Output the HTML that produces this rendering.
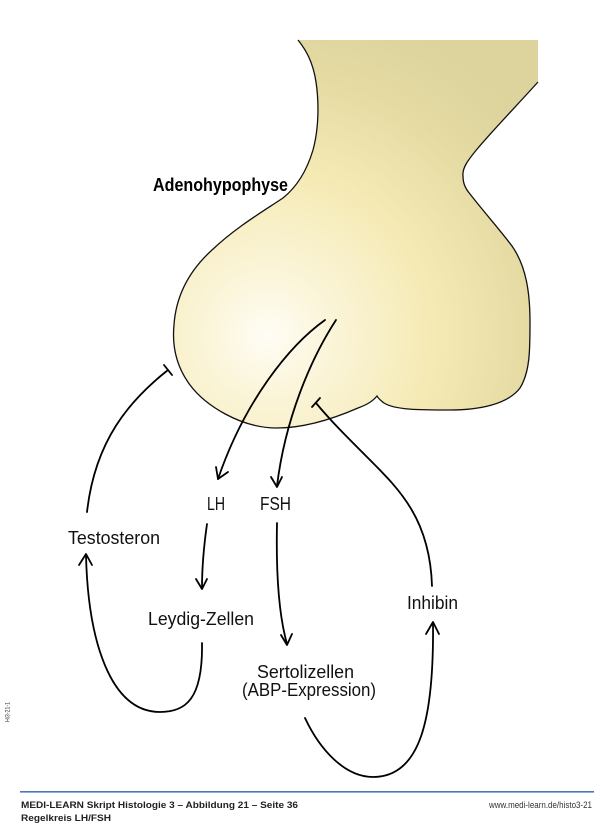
<!DOCTYPE html>
<html>
<head>
<meta charset="utf-8">
<style>
html,body{margin:0;padding:0;background:#fff;}
svg{display:block;}
text{font-family:"Liberation Sans",sans-serif;}
</style>
</head>
<body>
<svg width="600" height="831" viewBox="0 0 600 831" xmlns="http://www.w3.org/2000/svg">
<defs>
<radialGradient id="g" gradientUnits="userSpaceOnUse" cx="268" cy="335" r="330">
<stop offset="0" stop-color="#fffdf5"/>
<stop offset="0.18" stop-color="#fbf5da"/>
<stop offset="0.5" stop-color="#f5eab4"/>
<stop offset="0.8" stop-color="#e4daa2"/>
<stop offset="1" stop-color="#ddd39d"/>
</radialGradient>
</defs>
<!-- Adenohypophyse shape -->
<path d="M298,40 L538,40 L538,82
C 520,102 495,128 478,148
C 468,160 462,168 463,176
C 463,183 465,188 470,194
C 484,212 500,230 512,246
C 526,266 530,292 530,322
C 530,350 530,372 520,388
C 508,404 480,410 450,410
C 420,410 395,410 384,403
C 380,400 378,398 377,396
C 372,402 366,405 358,408
C 335,418 305,428 277,428
C 240,428 205,405 190,385
C 176,366 172,345 174,325
C 176,295 190,270 212,250
C 235,228 262,212 283,198
C 298,186 307,170 313,150
C 319,128 319,102 316,82
C 313,62 306,50 298,40 Z"
 fill="url(#g)" stroke="none"/>
<path d="M538,82
C 520,102 495,128 478,148
C 468,160 462,168 463,176
C 463,183 465,188 470,194
C 484,212 500,230 512,246
C 526,266 530,292 530,322
C 530,350 530,372 520,388
C 508,404 480,410 450,410
C 420,410 395,410 384,403
C 380,400 378,398 377,396
C 372,402 366,405 358,408
C 335,418 305,428 277,428
C 240,428 205,405 190,385
C 176,366 172,345 174,325
C 176,295 190,270 212,250
C 235,228 262,212 283,198
C 298,186 307,170 313,150
C 319,128 319,102 316,82
C 313,62 306,50 298,40"
 fill="none" stroke="#111" stroke-width="1.3"/>

<g fill="none" stroke="#000" stroke-width="1.8" stroke-linecap="round" stroke-linejoin="round">
<!-- LH arrow -->
<path d="M325,320 C 290,345 245,400 218,479"/>
<path d="M216,467 L218,479 L228,472"/>
<!-- FSH arrow -->
<path d="M336,320 C 310,360 285,420 277,486"/>
<path d="M271,477 L277,487 L282,477"/>
<!-- LH -> Leydig -->
<path d="M207,524 C 204,545 202,565 202,588"/>
<path d="M196,579 L202,589 L207,579"/>
<!-- FSH -> Sertoli -->
<path d="M277,523 C 276,570 278,612 287,644"/>
<path d="M281,635 L287,645 L292,634"/>
<!-- Leydig -> Testosteron -->
<path d="M202,643 C 203,700 185,712 160,712 C 110,712 88,640 86,555"/>
<path d="M79,565 L86,554 L92,565"/>
<!-- Testosteron inhibition -->
<path d="M87,512 C 95,440 130,400 168,370"/>
<path d="M164,365 L172,375"/>
<!-- Sertoli -> Inhibin -->
<path d="M305,718 C 320,750 345,777 373,777 C 420,777 434,720 433,623"/>
<path d="M426,634 L433,622 L439,634"/>
<!-- Inhibin inhibition -->
<path d="M432,586 C 430,520 400,490 370,460 C 345,435 330,420 316,403"/>
<path d="M312,407 L320,398"/>
</g>

<text x="153" y="191" font-size="18" font-weight="bold" textLength="135" lengthAdjust="spacingAndGlyphs" fill="#000">Adenohypophyse</text>
<g font-size="18" fill="#111">
<text x="68" y="544" textLength="92" lengthAdjust="spacingAndGlyphs">Testosteron</text>
<text x="207" y="510" textLength="18" lengthAdjust="spacingAndGlyphs">LH</text>
<text x="260" y="510" textLength="31" lengthAdjust="spacingAndGlyphs">FSH</text>
<text x="148" y="625" textLength="106" lengthAdjust="spacingAndGlyphs">Leydig-Zellen</text>
<text x="257" y="678" textLength="97" lengthAdjust="spacingAndGlyphs">Sertolizellen</text>
<text x="242" y="696" textLength="134" lengthAdjust="spacingAndGlyphs">(ABP-Expression)</text>
<text x="407" y="609" textLength="51" lengthAdjust="spacingAndGlyphs">Inhibin</text>
</g>

<!-- side label -->
<text transform="translate(9.5,722) rotate(-90)" font-size="6.5" fill="#333" textLength="20" lengthAdjust="spacingAndGlyphs">Hi3-21-1</text>

<!-- footer -->
<rect x="20" y="791" width="574" height="1.6" fill="#4a78b8"/>
<text x="21" y="808" font-size="9.5" font-weight="bold" fill="#222" textLength="277" lengthAdjust="spacingAndGlyphs">MEDI-LEARN Skript Histologie 3 – Abbildung 21 – Seite 36</text>
<text x="21" y="821" font-size="9.5" font-weight="bold" fill="#222" textLength="90" lengthAdjust="spacingAndGlyphs">Regelkreis LH/FSH</text>
<text x="489" y="808" font-size="9" fill="#333" textLength="103" lengthAdjust="spacingAndGlyphs">www.medi-learn.de/histo3-21</text>
</svg>
</body>
</html>
